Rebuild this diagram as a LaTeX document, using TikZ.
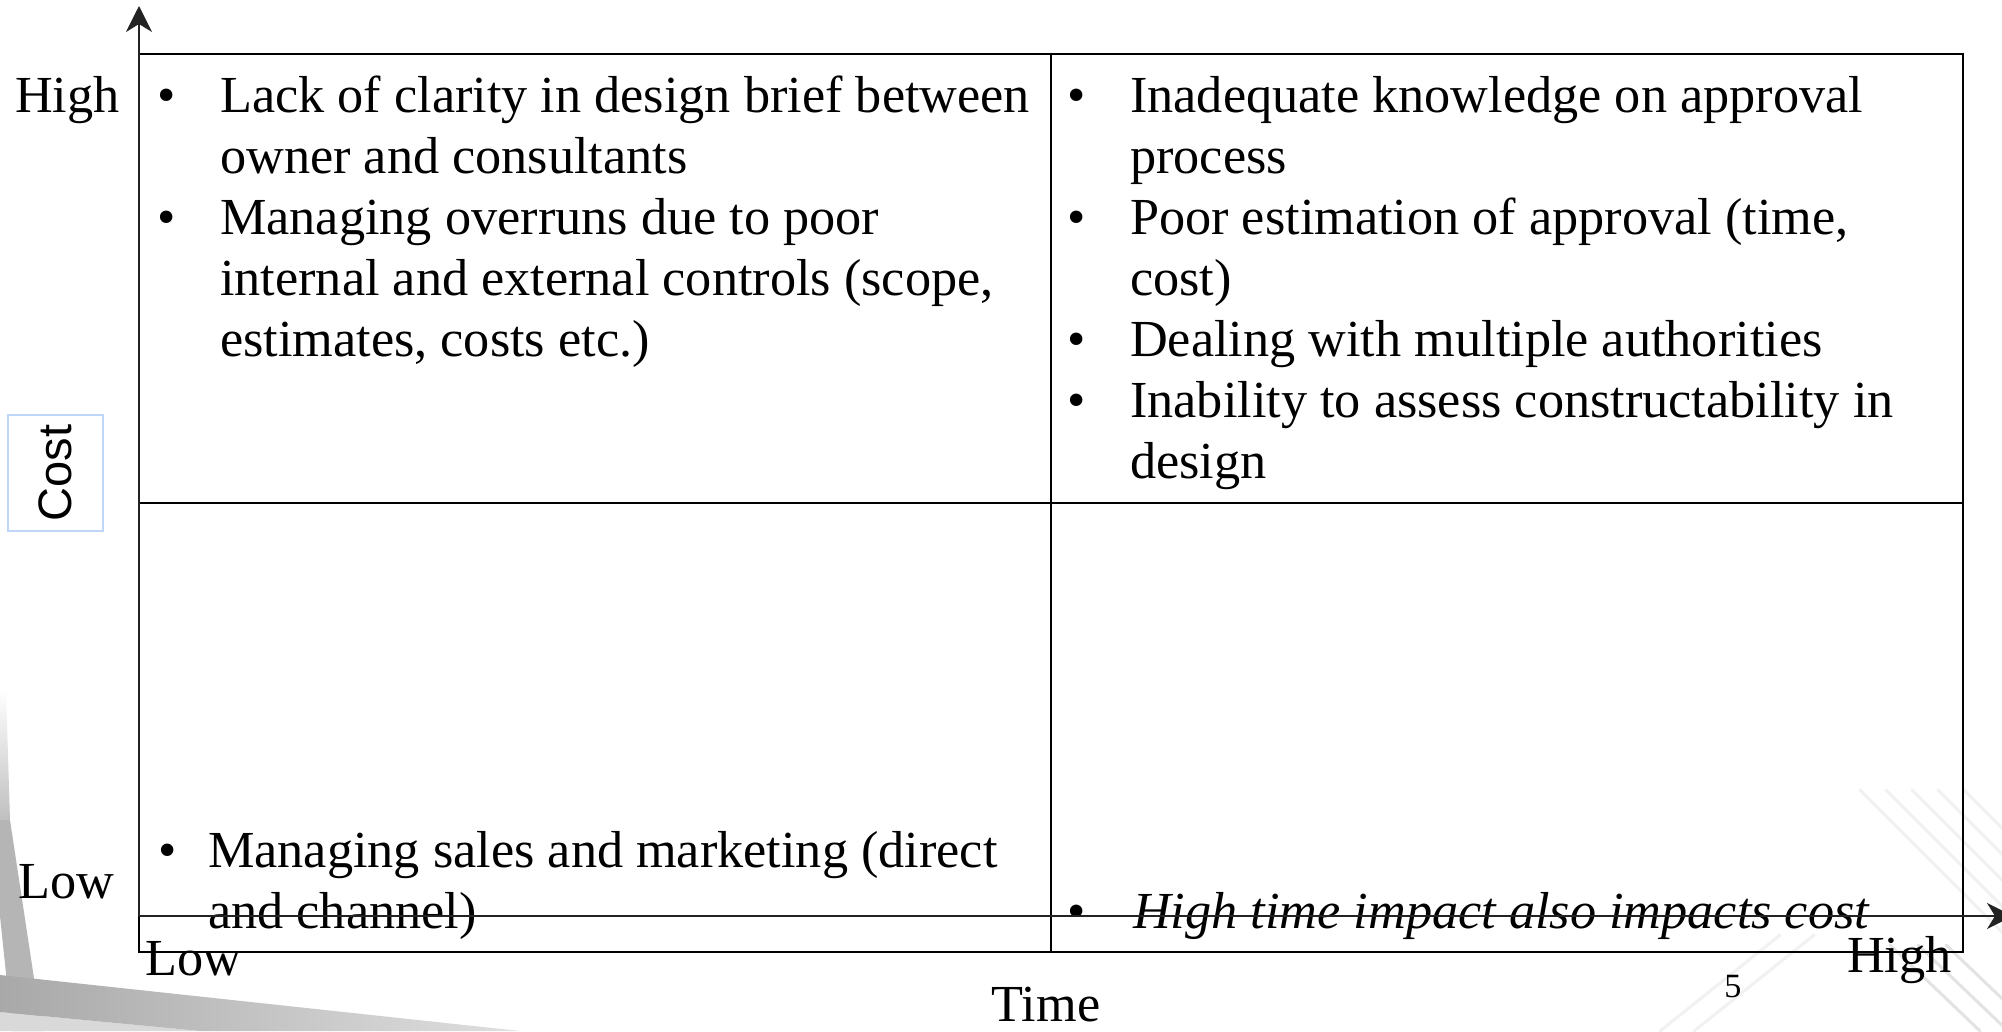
\documentclass[tikz,border=0pt]{standalone}
\usepackage{fontspec}
\setmainfont{Liberation Serif}[FakeStretch=1.005]
\newfontfamily\costfamily{Liberation Sans}
\usetikzlibrary{arrows.meta}
\definecolor{costblue}{RGB}{192,214,246}
\definecolor{axisgray}{RGB}{35,35,35}
\newcommand\cellfont{\fontsize{52}{61}\selectfont}
\newcommand\costfont{\costfamily\fontsize{47}{56}\selectfont}
\newcommand\bl[1]{\makebox[#1][c]{\textbullet}}
\newcommand\nb[1]{\hspace*{#1}}
\tikzset{
  cell/.style={anchor=base west, inner sep=0pt, font=\cellfont},
  lab/.style={anchor=base west, inner sep=0pt, font=\cellfont},
  gridline/.style={line width=2.6pt, draw=black},
  axisline/.style={line width=1.6pt, draw=axisgray, -{Stealth[length=26pt,width=26pt,inset=8pt]}},
  bgline/.style={line width=3pt, draw=gray!11, line cap=round},
}
\begin{document}
\begin{tikzpicture}[x=1pt,y=-1pt]
\useasboundingbox (0,0) rectangle (2002,1031);
% background decoration
\fill[white] (0,0) rectangle (2002,1031);
\shade[top color=white, bottom color=gray!50] (-10,690) -- (6,690) -- (10,820) -- (-10,820) -- cycle;
\fill[gray!58] (-10,820) -- (10,820) -- (42,1031) -- (12,1031) -- cycle;
\fill[gray!30] (0,1012) -- (200,1031) -- (0,1031) -- cycle;
\shade[left color=gray!68, right color=gray!25] (0,975) -- (520,1031) -- (200,1031) -- (0,1012) -- cycle;
\foreach \d in {0,26,52,78,104} {
  \draw[bgline] (1860+\d,790) -- (2010+\d,940);
}
\foreach \d in {0,28,56} {
  \draw[bgline, draw=gray!22] (1890+\d,945) -- (1980+\d,1031);
}
\foreach \d in {0,34} {
  \draw[bgline] (1660+\d,1031) -- (1780+\d,935);
}
% table
\draw[gridline] (139,54) rectangle (1963,952);
\draw[gridline] (1051,54) -- (1051,952);
\draw[gridline] (139,503) -- (1963,503);
% axis labels
\node[lab] (high) at (15,112) {High};
\node[lab] (lowy) at (18,898) {Low};
\node[lab] (lowx) at (145,975) {Low};
\node[lab] (highx) at (1847,972) {High};
\node[anchor=base, inner sep=0pt, font=\cellfont] (time) at (1046,1021) {Time};
\node[anchor=base, inner sep=0pt, font=\fontsize{34}{40}\selectfont] (pg) at (1733,997) {5};
\node[draw=costblue, line width=1.2pt, rotate=90, minimum width=116pt, minimum height=95pt, inner sep=0pt, font=\costfont] (cost) at (55.5,473) {Cost};
% cells
\node[cell] (tl) at (112,112) {\begin{tabular}[t]{@{}l@{}}
\bl{108pt}Lack of clarity in design brief between\\
\nb{108pt}owner and consultants\\
\bl{108pt}Managing overruns due to poor\\
\nb{108pt}internal and external controls (scope,\\
\nb{108pt}estimates, costs etc.)
\end{tabular}};
\node[cell] (tr) at (1022,112) {\begin{tabular}[t]{@{}l@{}}
\bl{108pt}Inadequate knowledge on approval\\
\nb{108pt}process\\
\bl{108pt}Poor estimation of approval (time,\\
\nb{108pt}cost)\\
\bl{108pt}Dealing with multiple authorities\\
\bl{108pt}Inability to assess constructability in\\
\nb{108pt}design
\end{tabular}};
\node[cell] (bl) at (126,867) {\begin{tabular}[t]{@{}l@{}}
\bl{82pt}Managing sales and marketing (direct\\
\nb{82pt}and channel)
\end{tabular}};
\node[cell] (br) at (1019,928) {\bl{114pt}\textit{High time impact also impacts cost}};
% axes
\coordinate (origin) at (139,916);
\coordinate (ytop) at (139,6);
\coordinate (xend) at (2013,916);
\draw[axisline] (origin) -- (ytop);
\draw[axisline] (origin) -- (xend);
\end{tikzpicture}
\end{document}
